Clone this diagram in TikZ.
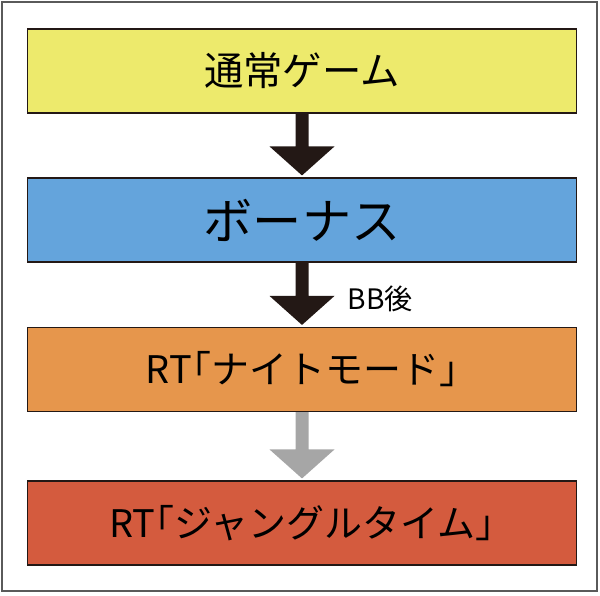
\documentclass[tikz,border=0pt]{standalone}
\usepackage{fontspec}
\usepackage{tikz}
\usetikzlibrary{calc}
\newfontfamily\jpfont{Noto Sans CJK JP}
\newfontfamily\jphalt[RawFeature=+halt]{Noto Sans CJK JP}
\definecolor{boxyellow}{HTML}{EDEA6C}
\definecolor{boxblue}{HTML}{64A4DC}
\definecolor{boxorange}{HTML}{E6964C}
\definecolor{boxred}{HTML}{D45B3E}
\definecolor{arrowblack}{HTML}{231815}
\definecolor{arrowgray}{HTML}{A6A6A6}
\definecolor{framegray}{HTML}{5A5A5A}
\newcommand{\blockarrow}[3]{\fill[#3] ($(#1.south)+(-6.5,0)$) -- ($(#2.north)+(-6.5,31)$) -- ($(#2.north)+(-32.5,31)$) -- ($(#2.north)+(0,2)$) -- ($(#2.north)+(32.5,31)$) -- ($(#2.north)+(6.5,31)$) -- ($(#1.south)+(6.5,0)$) -- cycle;}

\begin{document}
\begin{tikzpicture}[x = 0.025cm, y = 0.025cm,
	stage/.style = {draw = arrowblack, line width = 0.8pt, minimum width = 13.7cm, minimum height = 2.1cm, inner sep = 0pt},
	darkarrow/.style = {fill = arrowblack},
	lightarrow/.style = {fill = arrowgray}]
		\useasboundingbox (0,0) rectangle (600,-595);
		\draw[line width = 1.2pt, color = framegray] (2,-2) rectangle (597,-591);
		\node[stage, fill = boxyellow, font = \jpfont\fontsize{28pt}{32pt}\selectfont] (tsujo) at (302,-71) {通常ゲーム};
		\node[stage, fill = boxblue, font = \jpfont\fontsize{35pt}{40pt}\selectfont] (bonus) at (302,-220) {ボーナス};
		\node[stage, fill = boxorange, font = \jpfont\fontsize{27pt}{32pt}\selectfont] (night) at (302,-369.5) {RT{\jphalt 「}ナイトモード{\jphalt 」}};
		\node[stage, fill = boxred, font = \jpfont\fontsize{27pt}{32pt}\selectfont] (jungle) at (302,-523) {RT{\jphalt 「}ジャングルタイム{\jphalt 」}};
		\blockarrow{tsujo}{bonus}{darkarrow}
		\blockarrow{bonus}{night}{darkarrow}
		\blockarrow{night}{jungle}{lightarrow}
		\node[right, font = \jpfont\fontsize{20pt}{24pt}\selectfont] (bbgo) at (343,-299) {BB後};
\end{tikzpicture}
\end{document}
